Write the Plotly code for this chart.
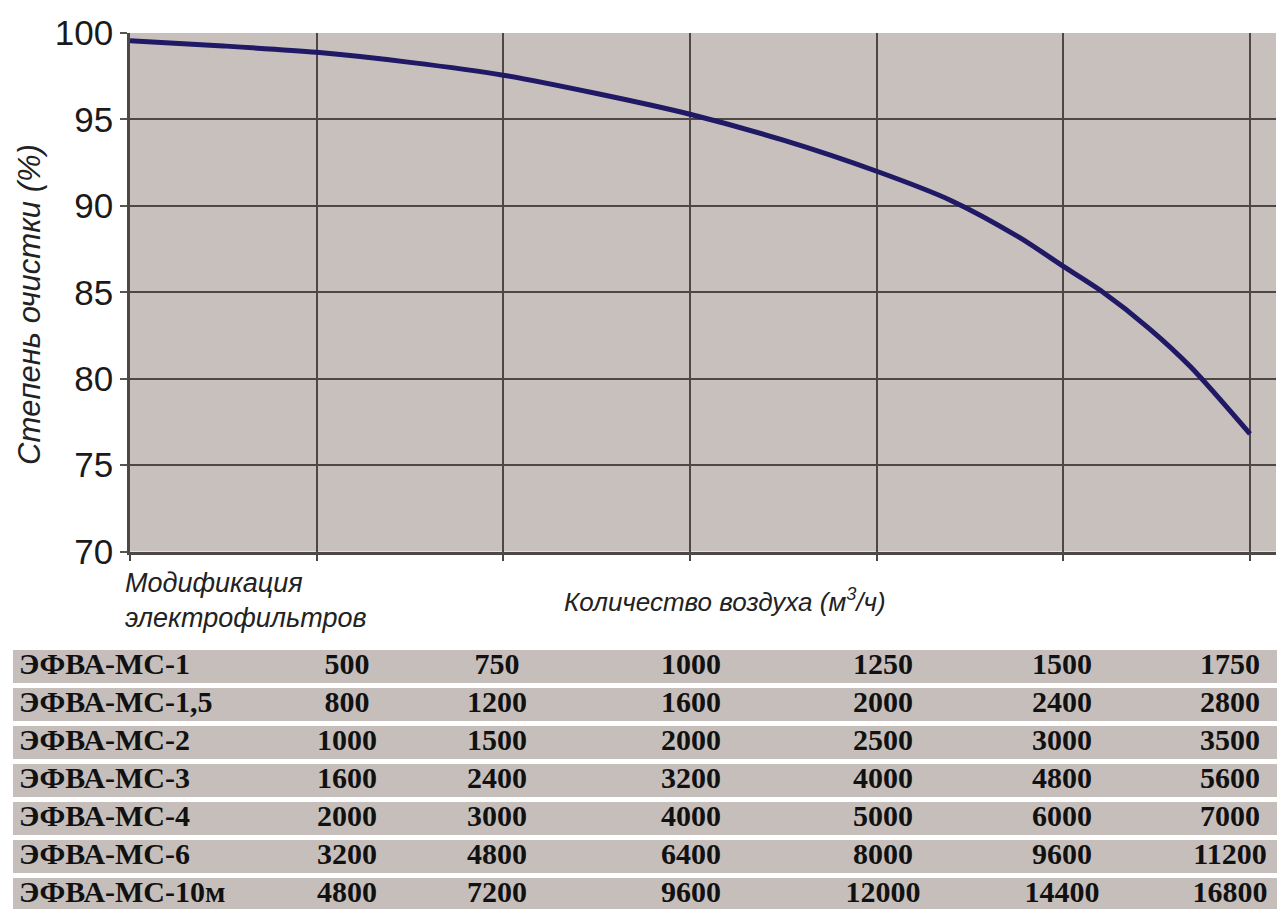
import plotly.graph_objects as go

# ---- data ----
air_flow = [250, 375, 500, 625, 750, 875, 1000, 1125, 1250, 1350, 1440, 1500, 1550, 1615, 1670, 1750]
efficiency = [99.55, 99.25, 98.88, 98.3, 97.56, 96.5, 95.3, 93.8, 92.0, 90.3, 88.2, 86.5, 85.1, 82.9, 80.7, 76.8]
y_ticks = [70, 75, 80, 85, 90, 95, 100]
x_grid = [250, 500, 750, 1000, 1250, 1500, 1750]

models = ["ЭФВА-МС-1", "ЭФВА-МС-1,5", "ЭФВА-МС-2", "ЭФВА-МС-3",
          "ЭФВА-МС-4", "ЭФВА-МС-6", "ЭФВА-МС-10м"]
flows = [
    [500, 750, 1000, 1250, 1500, 1750],
    [800, 1200, 1600, 2000, 2400, 2800],
    [1000, 1500, 2000, 2500, 3000, 3500],
    [1600, 2400, 3200, 4000, 4800, 5600],
    [2000, 3000, 4000, 5000, 6000, 7000],
    [3200, 4800, 6400, 8000, 9600, 11200],
    [4800, 7200, 9600, 12000, 14400, 16800],
]

# ---- layout constants ----
W, H = 1277, 909
PLOT_BG = "#c8c0bc"
GRID = "#4d4845"
col_pos = [334, 484, 678, 870, 1049, 1217]   # table column centres (x2 units)
label_x = 6
table_width = 1264
TFONT = dict(family="Liberation Serif", size=30, color="#111111")

fig = go.Figure()

fig.add_trace(go.Scatter(
    x=air_flow, y=efficiency, mode="lines",
    line=dict(color="#1f1966", width=5, shape="spline", smoothing=0.8),
    xaxis="x", yaxis="y", showlegend=False, hoverinfo="skip"))

# table row backgrounds
rows = list(range(len(models)))
bar_w = [0.87] * (len(rows) - 1) + [1.2]
fig.add_trace(go.Bar(
    y=rows, x=[table_width] * len(rows), base=0, orientation="h",
    width=bar_w, offset=-0.435,
    marker=dict(color="#c6bebb", line=dict(width=0)),
    xaxis="x2", yaxis="y2", showlegend=False, hoverinfo="skip"))

fig.add_trace(go.Scatter(
    x=[label_x] * len(models), y=rows, mode="text",
    text=["<b>%s</b>" % m for m in models], textposition="middle right",
    textfont=TFONT, xaxis="x2", yaxis="y2", showlegend=False, hoverinfo="skip"))

for j, cx in enumerate(col_pos):
    fig.add_trace(go.Scatter(
        x=[cx] * len(rows), y=rows, mode="text",
        text=["<b>%d</b>" % flows[i][j] for i in rows], textposition="middle center",
        textfont=TFONT, xaxis="x2", yaxis="y2", showlegend=False, hoverinfo="skip"))

# pixel geometry -> domains
plot_left, plot_right, plot_top, plot_bottom = 130, 1276, 33, 551.5
row_top0, row_pitch = 650, 38.05
tbl_top_px = 647
y2_top = (tbl_top_px - (row_top0 + 16.5)) / row_pitch
y2_bot = (H - (row_top0 + 16.5)) / row_pitch

fig.update_layout(
    width=W, height=H,
    margin=dict(l=0, r=0, t=0, b=0),
    paper_bgcolor="white", plot_bgcolor="rgba(0,0,0,0)",
    font=dict(family="Liberation Sans", color="#1a1a1a"),
    xaxis=dict(
        domain=[plot_left / W, plot_right / W],
        range=[250, 250 + (plot_right - plot_left) / 186.67 * 250],
        tickvals=x_grid, showticklabels=False,
        ticks="outside", ticklen=7, tickwidth=2, tickcolor=GRID,
        showgrid=True, gridcolor=GRID, gridwidth=2,
        showline=True, linecolor=GRID, linewidth=2.5,
        zeroline=False, automargin=False, fixedrange=True),
    yaxis=dict(
        domain=[1 - plot_bottom / H, 1 - plot_top / H],
        range=[70, 100], tickvals=y_ticks,
        ticks="outside", ticklen=7, tickwidth=1.5, tickcolor="#555",
        tickfont=dict(size=35, color="#1a1a1a"),
        showgrid=True, gridcolor=GRID, gridwidth=2,
        showline=True, linecolor=GRID, linewidth=2.5,
        zeroline=False, automargin=False, fixedrange=True),
    xaxis2=dict(
        domain=[13 / W, 1], range=[0, table_width], anchor="y2",
        visible=False, fixedrange=True),
    yaxis2=dict(
        domain=[0, 1 - tbl_top_px / H], range=[y2_bot, y2_top], anchor="x2",
        visible=False, fixedrange=True),
    bargap=0,
    shapes=[dict(
        type="rect", xref="x domain", yref="y domain",
        x0=0, x1=1, y0=0, y1=1, layer="below",
        fillcolor=PLOT_BG, line=dict(width=0))],
    annotations=[
        dict(text="<i>Степень очистки (%)</i>", textangle=-90,
             x=29 / W, y=1 - 305 / H, xref="paper", yref="paper",
             showarrow=False, xanchor="center", yanchor="middle",
             font=dict(size=31, color="#222222")),
        dict(text="<i>Модификация</i>", x=123 / W, y=1 - 583 / H,
             xref="paper", yref="paper", showarrow=False,
             xanchor="left", yanchor="middle",
             font=dict(size=27, color="#222222")),
        dict(text="<i>электрофильтров</i>", x=123 / W, y=1 - 618 / H,
             xref="paper", yref="paper", showarrow=False,
             xanchor="left", yanchor="middle",
             font=dict(size=27, color="#222222")),
        dict(text="<i>Количество воздуха (м<sup>3</sup>/ч)</i>", x=562 / W, y=1 - 600 / H,
             xref="paper", yref="paper", showarrow=False,
             xanchor="left", yanchor="middle",
             font=dict(size=26, color="#222222")),
    ],
)

fig.write_html("out.html", config={"displayModeBar": False},
               post_script="document.body.style.margin='0';")
